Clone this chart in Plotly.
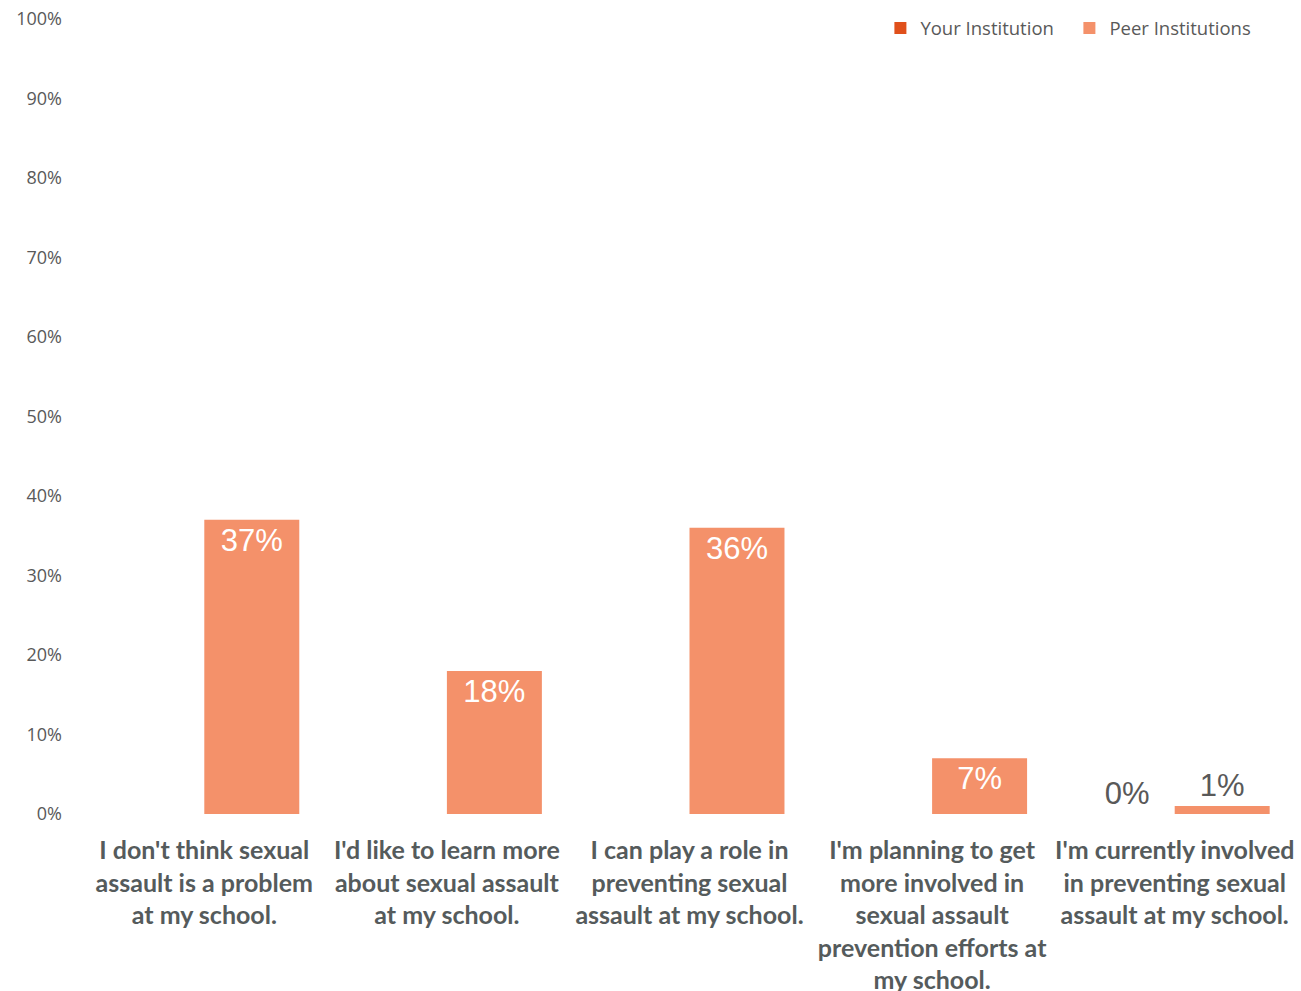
import plotly.graph_objects as go

categories = [
    "I don't think sexual<br>assault is a problem<br>at my school.",
    "I'd like to learn more<br>about sexual assault<br>at my school.",
    "I can play a role in<br>preventing sexual<br>assault at my school.",
    "I'm planning to get<br>more involved in<br>sexual assault<br>prevention efforts at<br>my school.",
    "I'm currently involved<br>in preventing sexual<br>assault at my school.",
]
your_values = [None, None, None, None, 0]
peer_values = [37, 18, 36, 7, 1]
y_ticks = list(range(0, 101, 10))
y_tick_text = [f"{v}%" for v in y_ticks]

your_text = ["" if v is None else f"{v}%" for v in your_values]
peer_text = [f"{v}%" for v in peer_values]
peer_pos = ["inside" if v >= 5 else "outside" for v in peer_values]

fig = go.Figure()
fig.add_trace(go.Bar(
    name="Your Institution", x=categories, y=your_values,
    marker=dict(color="#E0501B", line=dict(width=0)),
    text=your_text, textposition="outside",
    textfont=dict(family="Liberation Sans, Arial", size=31, color="#595959"),
    cliponaxis=False,
))
fig.add_trace(go.Bar(
    name="Peer Institutions", x=categories, y=peer_values,
    marker=dict(color="#F4916A", line=dict(width=0)),
    text=peer_text, textposition=peer_pos,
    insidetextanchor="end",
    insidetextfont=dict(family="Liberation Sans, Arial", size=31, color="white"),
    outsidetextfont=dict(family="Liberation Sans, Arial", size=31, color="#595959"),
    constraintext="none", cliponaxis=False,
))

fig.update_layout(
    width=1301, height=991,
    margin=dict(l=83, r=5, t=19, b=177, autoexpand=False),
    plot_bgcolor="white", paper_bgcolor="white",
    barmode="group", bargap=0.217, bargroupgap=0,
    font=dict(family="Open Sans", color="#595959", size=17),
    legend=dict(orientation="h", x=0.969, xanchor="right", y=1.012, yanchor="top",
                font=dict(family="Open Sans", size=18.5, color="#595959"),
                itemwidth=30, entrywidth=144, traceorder="normal"),
    uniformtext=dict(mode=False),
)
fig.update_yaxes(range=[0, 100], tickmode="array", tickvals=y_ticks, ticktext=y_tick_text,
                 showgrid=False, zeroline=False, showline=False, automargin=False,
                 ticklabelstandoff=20,
                 tickfont=dict(family="Open Sans", size=18, color="#595959"))
fig.update_xaxes(showgrid=False, showline=False, zeroline=False, automargin=False,
                 tickangle=0, ticklabelstandoff=19,
                 tickfont=dict(family="Lato", size=25, color="#555B5C", weight="bold"))

fig.write_html("out.html")
